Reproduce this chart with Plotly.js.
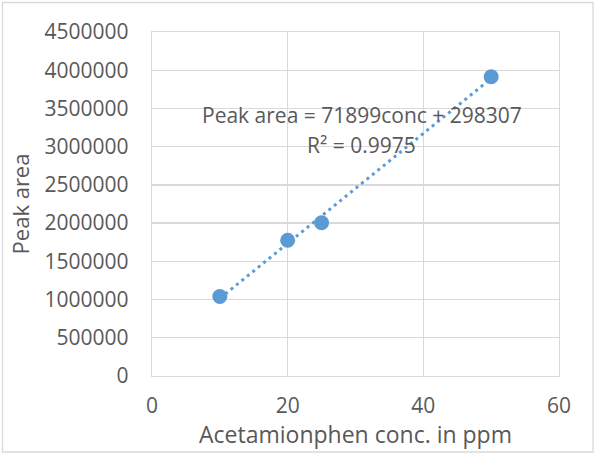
<!DOCTYPE html>
<html>
<head>
<meta charset="utf-8">
<script src="https://cdn.plot.ly/plotly-3.0.1.min.js"></script>
<style>html,body{margin:0;padding:0;background:#fff;}#chart{width:595px;height:454px;}</style>
</head>
<body>
<div id="chart"></div>
<script>
// Data
const concPpm = [10, 20, 25, 50];
const peakArea = [1040000, 1775000, 2005000, 3915000];
const xTickVals = [0, 20, 40, 60];
const yTickVals = [0, 500000, 1000000, 1500000, 2000000, 2500000, 3000000, 3500000, 4000000, 4500000];
const equationText = 'Peak area = 71899conc + 298307';
const r2Text = 'R² = 0.9975';
const xTitle = 'Acetamionphen conc. in ppm';
const yTitle = 'Peak area';

// Linear trendline (least squares) over the data range
const n = concPpm.length;
const mx = concPpm.reduce((a, b) => a + b, 0) / n;
const my = peakArea.reduce((a, b) => a + b, 0) / n;
let sxy = 0, sxx = 0;
for (let i = 0; i < n; i++) { sxy += (concPpm[i] - mx) * (peakArea[i] - my); sxx += (concPpm[i] - mx) ** 2; }
const slope = sxy / sxx, intercept = my - slope * mx;
const xMin = Math.min(...concPpm), xMax = Math.max(...concPpm);
const trendX = [xMin, xMax];
const trendY = trendX.map(x => slope * x + intercept);

const W = 595, H = 454;
const m = {l: 152, r: 36, t: 32, b: 78};
const pw = W - m.l - m.r, ph = H - m.t - m.b;
const px = v => (v - m.l) / pw;
const py = v => (H - m.b - v) / ph;

const blue = '#5B9BD5';
const textCol = '#595959';
const grid = '#D9D9D9';
const font = '"Open Sans", Lato, sans-serif';

const traces = [
  {x: trendX, y: trendY, mode: 'lines', type: 'scatter',
   line: {color: blue, width: 3, dash: '3px,4px'}, hoverinfo: 'skip', showlegend: false},
  {x: concPpm, y: peakArea, mode: 'markers', type: 'scatter',
   marker: {color: blue, size: 15}, showlegend: false}
];

const layout = {
  width: W, height: H,
  margin: m,
  paper_bgcolor: '#fff', plot_bgcolor: '#fff',
  font: {family: font, color: textCol, size: 21},
  showlegend: false,
  xaxis: {
    range: [0, 60], tickvals: xTickVals, ticktext: xTickVals.map(String),
    showgrid: true, gridcolor: grid, gridwidth: 1.3, zeroline: false,
    showline: true, linecolor: grid, linewidth: 1.3, mirror: true,
    ticks: '', ticklabelstandoff: 10,
    tickfont: {size: 21, color: textCol},
    title: {text: xTitle, font: {size: 23, color: textCol}, standoff: 1},
    automargin: false, fixedrange: true
  },
  yaxis: {
    range: [0, 4500000], tickvals: yTickVals, ticktext: yTickVals.map(String),
    showgrid: true, gridcolor: grid, gridwidth: 1.3, zeroline: false,
    showline: true, linecolor: grid, linewidth: 1.3, mirror: true,
    ticks: '', ticklabelstandoff: 18,
    tickfont: {size: 21, color: textCol},
    title: {text: yTitle, font: {size: 22, color: textCol}, standoff: 8},
    automargin: false, fixedrange: true
  },
  annotations: [
    {xref: 'paper', yref: 'paper', x: px(362), y: py(115), xanchor: 'center', yanchor: 'middle',
     text: equationText, showarrow: false, font: {size: 21, color: textCol}},
    {xref: 'paper', yref: 'paper', x: px(361), y: py(145), xanchor: 'center', yanchor: 'middle',
     text: r2Text, showarrow: false, font: {size: 21, color: textCol}}
  ],
  shapes: [
    {type: 'rect', xref: 'paper', yref: 'paper', layer: 'below',
     x0: px(2.5), x1: px(593), y0: py(452), y1: py(2.5),
     line: {color: grid, width: 1.3}, fillcolor: 'rgba(0,0,0,0)'}
  ]
};

Plotly.newPlot('chart', traces, layout, {staticPlot: true, displayModeBar: false});
</script>
</body>
</html>
